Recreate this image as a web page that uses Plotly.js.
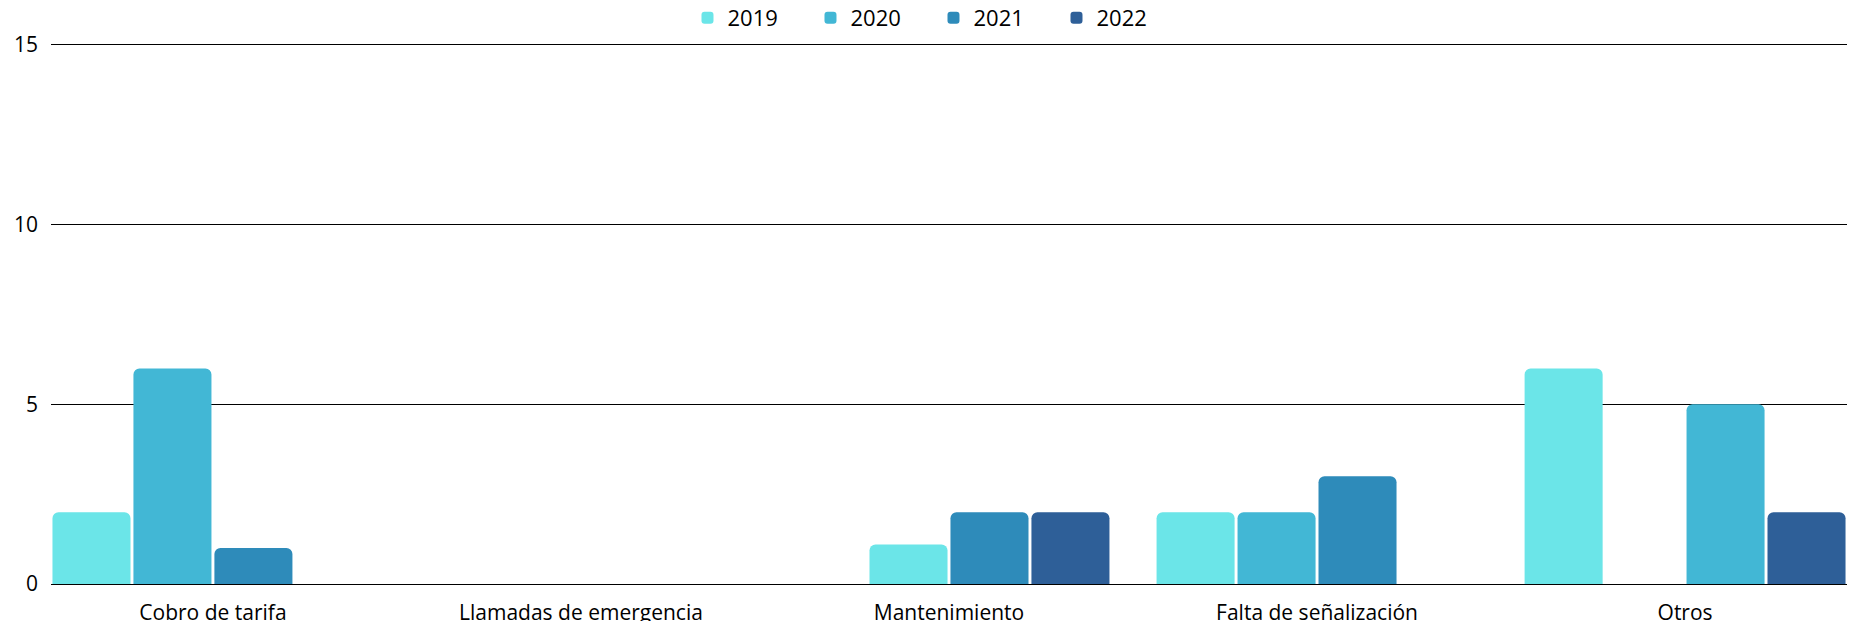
<!DOCTYPE html>
<html>
<head>
<meta charset="utf-8">
<script src="https://cdn.plot.ly/plotly-3.0.1.min.js"></script>
<style>html,body{margin:0;padding:0;background:#fff;}#chart{width:1854px;height:621px;}</style>
</head>
<body>
<div id="chart"></div>
<script>
// ---- data ----
var categories = ["Cobro de tarifa", "Llamadas de emergencia", "Mantenimiento", "Falta de señalización", "Otros"];
var seriesNames = ["2019", "2020", "2021", "2022"];
var values2019 = [2, 0, 1.1, 2, 6];
var values2020 = [6, 0, 0, 2, 5];
var values2021 = [1, 0, 2, 3, 0];
var values2022 = [0, 0, 2, 0, 2];
var yTickValues = [0, 5, 10, 15];

// ---- styling ----
var colors = ["#6BE5E8", "#42B7D5", "#2E8BBA", "#2E5F98"];
var slotWidth = 0.22;
var barWidth = 0.212;
// slot index of each bar inside its category group (as drawn in the reference)
var slots = [
  [0, 0, 1, 0, 0],
  [1, 1, 1, 1, 2],
  [2, 2, 2, 2, 2],
  [3, 3, 3, 3, 3]
];
var allValues = [values2019, values2020, values2021, values2022];

var traces = seriesNames.map(function (name, i) {
  return {
    type: "bar",
    name: name,
    x: categories,
    y: allValues[i],
    width: barWidth,
    offset: slots[i].map(function (s) { return -0.44 + s * slotWidth + (slotWidth - barWidth) / 2; }),
    marker: { color: colors[i], cornerradius: 6, line: { width: 0 } },
    hoverinfo: "x+y+name"
  };
});

var tickFont = { family: "Open Sans, Noto Sans, sans-serif", size: 21, color: "#000" };
var legendFont = { family: "Open Sans, Noto Sans, sans-serif", size: 22, color: "#000" };

var layout = {
  width: 1854,
  height: 621,
  autosize: false,
  margin: { l: 51, r: 7, t: 41, b: 37, autoexpand: false },
  paper_bgcolor: "#fff",
  plot_bgcolor: "#fff",
  font: tickFont,
  barmode: "overlay",
  showlegend: true,
  legend: {
    orientation: "h",
    xref: "container",
    x: 0.5035,
    xanchor: "center",
    yref: "container",
    y: 1 - 18 / 621,
    yanchor: "middle",
    entrywidth: 78,
    font: legendFont,
    bgcolor: "rgba(0,0,0,0)"
  },
  xaxis: {
    type: "category",
    range: [-0.44, 4.44],
    showgrid: false,
    zeroline: false,
    showline: false,
    ticks: "",
    tickangle: 0,
    automargin: false,
    ticklabelstandoff: 14,
    tickfont: tickFont,
    fixedrange: true
  },
  yaxis: {
    range: [0, 15.11],
    tickvals: yTickValues,
    ticktext: yTickValues.map(String),
    showgrid: true,
    gridcolor: "#000",
    gridwidth: 1,
    zeroline: true,
    zerolinecolor: "#000",
    zerolinewidth: 1,
    showline: false,
    ticks: "",
    automargin: false,
    ticklabelstandoff: 12,
    tickfont: tickFont,
    fixedrange: true
  }
};

Plotly.newPlot("chart", traces, layout, { displayModeBar: false, staticPlot: true });
</script>
</body>
</html>
